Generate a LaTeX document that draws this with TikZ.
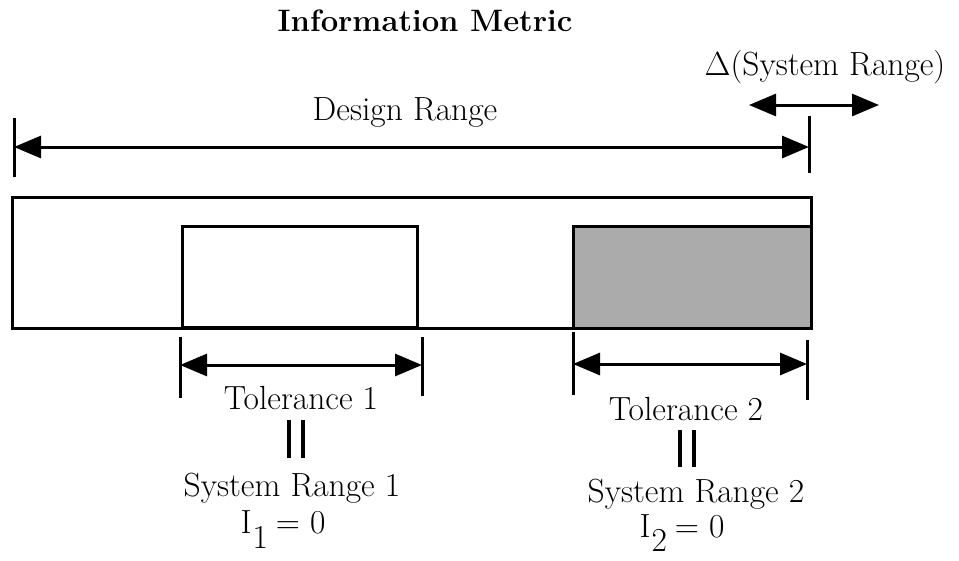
\RequirePackage{fix-cm}
\documentclass[tikz,border=0pt]{standalone}
\usetikzlibrary{arrows.meta}
\begin{document}
\begin{tikzpicture}[x=1pt,y=-1pt,
  txt/.style={anchor=base,inner sep=0pt,font=\fontsize{33.5}{40}\selectfont},
  headtxt/.style={anchor=base,inner sep=0pt,font=\fontsize{31}{38}\selectfont\bfseries},
  dimline/.style={line width=3pt,
    {Triangle[length=27pt,width=22pt]}-{Triangle[length=27pt,width=22pt]}},
  tickline/.style={line width=3pt},
  boxline/.style={line width=3pt},
  barline/.style={line width=3.4pt}]
% canvas
\fill[white] (0,0) rectangle (959,560);
\useasboundingbox (0,0) rectangle (959,560);

% headings
\node[headtxt] (title) at (425,31) {Information Metric};
\node[txt] (delta) at (825,75) {$\Delta$(System Range)};
\node[txt] (design) at (405,120) {Design Range};

% design range and its shift
\coordinate (dL) at (14,147);
\coordinate (dR) at (809,147);
\coordinate (dLtop) at (14,118);
\coordinate (dLbot) at (14,177);
\coordinate (dRtop) at (809,116);
\coordinate (dRbot) at (809,173);
\draw[tickline] (dLtop) -- (dLbot);
\draw[tickline] (dRtop) -- (dRbot);
\draw[dimline] (dL) -- (dR);
\coordinate (sL) at (749,105);
\coordinate (sR) at (879,105);
\draw[dimline] (sL) -- (sR);

% boxes
\draw[boxline] (12,197) rectangle (811,328);
\draw[boxline] (182,226) rectangle (417,327);
\draw[boxline,fill=black!33] (573,226) rectangle (811,328);

% tolerance 1
\coordinate (t1L) at (180,365);
\coordinate (t1R) at (422,365);
\draw[tickline] (180,337) -- (180,398);
\draw[tickline] (422,337) -- (422,396);
\draw[dimline] (t1L) -- (t1R);

% tolerance 2
\coordinate (t2L) at (573,364);
\coordinate (t2R) at (807,364);
\draw[tickline] (573,332) -- (573,395);
\draw[tickline] (807,340) -- (807,400);
\draw[dimline] (t2L) -- (t2R);

% labels under tolerance 1
\node[txt] (tol1) at (301,409) {Tolerance 1};
\draw[barline] (289,420) -- (289,458);
\draw[barline] (303,420) -- (303,458);
\node[txt] (sys1) at (292,496) {System Range 1};
\node[txt] (inf1) at (283,533) {I\kern1pt\raisebox{-15pt}{1}\kern8pt= 0};

% labels under tolerance 2
\node[txt] (tol2) at (686,420) {Tolerance 2};
\draw[barline] (680,430) -- (680,467);
\draw[barline] (694,430) -- (694,467);
\node[txt] (sys2) at (696,502) {System Range 2};
\node[txt] (inf2) at (682,537) {I\kern1pt\raisebox{-14pt}{2}\kern8pt= 0};
\end{tikzpicture}
\end{document}
